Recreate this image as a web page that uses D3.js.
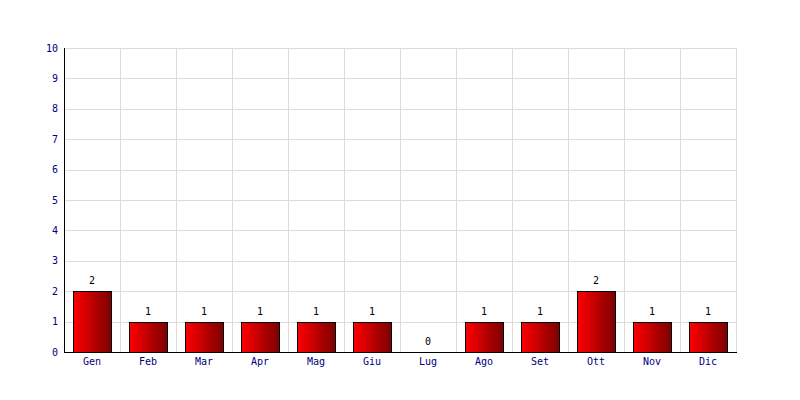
<!DOCTYPE html>
<html><head><meta charset="utf-8">
<script src="https://cdn.jsdelivr.net/npm/d3@7"></script>
<style>body{margin:0;background:#fff}</style>
</head><body>
<svg id="c" width="800" height="400"></svg>
<script>
const categories = ["Gen","Feb","Mar","Apr","Mag","Giu","Lug","Ago","Set","Ott","Nov","Dic"];
const values = [2,1,1,1,1,1,0,1,1,2,1,1];
const yTicks = [0,1,2,3,4,5,6,7,8,9,10];

const svg = d3.select("#c");
const m = {l:64, r:64, t:48, b:48};
const W = 800, H = 400;
const x = d3.scaleBand().domain(categories).range([m.l, W-m.r]).paddingInner(0).paddingOuter(0);
const y = d3.scaleLinear().domain([0,10]).range([H-m.b, m.t]);
const font = "DejaVu Sans Mono, monospace";

const defs = svg.append("defs");
const g = defs.append("linearGradient").attr("id","bg").attr("x1","0").attr("x2","1").attr("y1","0").attr("y2","0");
g.append("stop").attr("offset","0%").attr("stop-color","#ff0000");
g.append("stop").attr("offset","100%").attr("stop-color","#7a0000");

// grid
svg.append("g").selectAll("line").data(yTicks).join("line")
  .attr("x1", m.l).attr("x2", W-m.r)
  .attr("y1", d=>Math.round(y(d))+0.5).attr("y2", d=>Math.round(y(d))+0.5)
  .attr("stroke","#dcdcdc");
svg.append("g").selectAll("line").data(categories).join("line")
  .attr("x1", d=>x(d)+x.bandwidth()+0.5).attr("x2", d=>x(d)+x.bandwidth()+0.5)
  .attr("y1", m.t).attr("y2", H-m.b)
  .attr("stroke","#dcdcdc");

// bars
const bw = 38;
svg.append("g").selectAll("rect").data(values.map((v,i)=>({c:categories[i],v})).filter(d=>d.v>0)).join("rect")
  .attr("x", d=>Math.round(x(d.c)+x.bandwidth()/2-bw/2)+0.5)
  .attr("width", bw)
  .attr("y", d=>Math.round(y(d.v))+0.5)
  .attr("height", d=>Math.round(y(0))-Math.round(y(d.v)))
  .attr("fill","url(#bg)").attr("stroke","#000").attr("stroke-width",1);

// value labels
svg.append("g").selectAll("text").data(values.map((v,i)=>({c:categories[i],v}))).join("text")
  .attr("x", d=>x(d.c)+x.bandwidth()/2)
  .attr("y", d=>y(d.v)-7)
  .attr("text-anchor","middle").attr("font-family",font).attr("font-size",10).attr("fill","#000")
  .text(d=>d.v);

// axes lines
svg.append("line").attr("x1",m.l+0.5).attr("x2",m.l+0.5).attr("y1",m.t).attr("y2",H-m.b+0.5).attr("stroke","#000");
svg.append("line").attr("x1",m.l).attr("x2",W-m.r+1).attr("y1",H-m.b+0.5).attr("y2",H-m.b+0.5).attr("stroke","#000");

// y tick labels
svg.append("g").selectAll("text").data(yTicks).join("text")
  .attr("x", 58).attr("y", d=>y(d)+3.5)
  .attr("text-anchor","end").attr("font-family",font).attr("font-size",10).attr("fill","#000080")
  .text(d=>d);

// x labels
svg.append("g").selectAll("text").data(categories).join("text")
  .attr("x", d=>x(d)+x.bandwidth()/2).attr("y", 365)
  .attr("text-anchor","middle").attr("font-family",font).attr("font-size",10).attr("fill","#000080")
  .text(d=>d);
</script>
</body></html>
